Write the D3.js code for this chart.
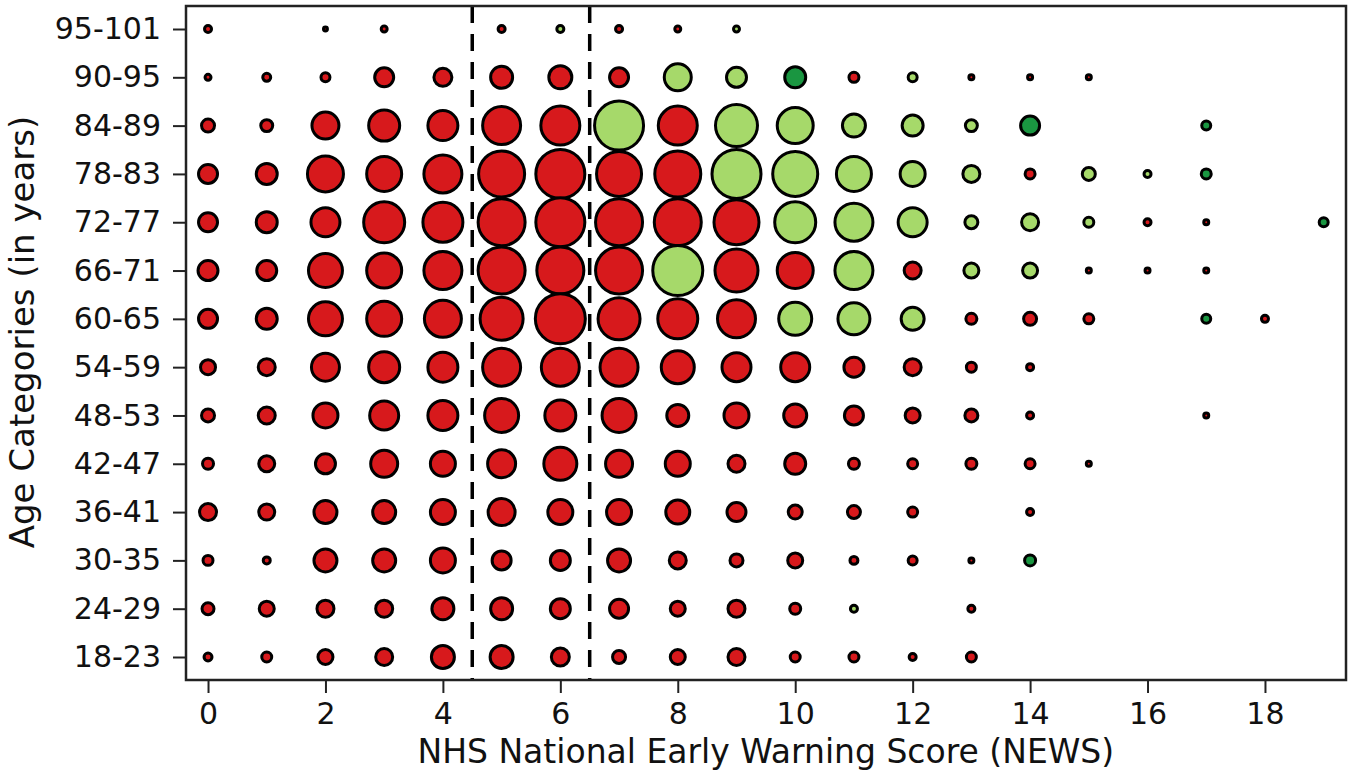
<!DOCTYPE html>
<html>
<head>
<meta charset="utf-8">
<script src="https://cdn.jsdelivr.net/npm/d3@7/dist/d3.min.js"></script>
<style>
  body { margin: 0; background: #fff; }
  text { font-family: "DejaVu Sans", sans-serif; fill: #111; }
</style>
</head>
<body>
<div id="chart"></div>
<script>
// age categories, top row first
var ageCategories = ["95-101", "90-95", "84-89", "78-83", "72-77", "66-71", "60-65",
  "54-59", "48-53", "42-47", "36-41", "30-35", "24-29", "18-23"];

// NEWS score 0..19
var newsScores = d3.range(0, 20);
var xTicks = [0, 2, 4, 6, 8, 10, 12, 14, 16, 18];

// bubble sizes per age row (one value per NEWS score, 0 = no patients)
var sizes = [
  [25, 0, 12, 20, 0, 25, 25, 25, 20, 20, 0, 0, 0, 0, 0, 0, 0, 0, 0, 0],
  [20, 30, 36, 121, 110, 156, 169, 121, 225, 132, 144, 42, 36, 16, 16, 16, 0, 0, 0, 0],
  [64, 56, 225, 289, 272, 420, 441, 676, 441, 506, 380, 169, 144, 56, 121, 0, 0, 36, 0, 0],
  [121, 144, 380, 361, 420, 600, 676, 576, 600, 676, 576, 361, 196, 100, 42, 64, 25, 42, 0, 0],
  [121, 144, 256, 484, 462, 625, 676, 625, 625, 576, 484, 420, 256, 64, 100, 42, 25, 16, 0, 36],
  [132, 132, 342, 361, 420, 625, 625, 625, 702, 529, 380, 420, 100, 81, 81, 16, 16, 16, 0, 0],
  [121, 144, 342, 361, 400, 529, 702, 506, 462, 420, 324, 306, 169, 49, 64, 42, 0, 36, 25, 0],
  [81, 100, 240, 289, 272, 420, 420, 420, 324, 256, 256, 132, 100, 42, 25, 0, 0, 0, 0, 0],
  [64, 100, 196, 256, 272, 342, 289, 342, 156, 196, 169, 121, 81, 64, 25, 0, 0, 16, 0, 0],
  [49, 90, 132, 225, 196, 240, 324, 225, 196, 100, 144, 49, 42, 49, 42, 16, 0, 0, 0, 0],
  [100, 90, 169, 169, 196, 225, 196, 196, 182, 121, 72, 64, 42, 0, 25, 0, 0, 0, 0, 0],
  [42, 25, 169, 169, 196, 121, 132, 169, 100, 64, 81, 30, 36, 16, 49, 0, 0, 0, 0, 0],
  [56, 81, 100, 100, 156, 156, 132, 121, 81, 100, 49, 25, 0, 25, 0, 0, 0, 0, 0, 0],
  [30, 42, 81, 100, 169, 169, 110, 64, 81, 100, 42, 42, 25, 42, 0, 0, 0, 0, 0, 0]
];

// outcome group per cell: r = red, l = light green, d = dark green, . = empty
var groups = [
  "r.rr.rlrrl..........",
  "rrrrrrrrlldrlrrr....",
  "rrrrrrrlrllllld..d..",
  "rrrrrrrrrlllllrlld..",
  "rrrrrrrrrrllllllrr.d",
  "rrrrrrrrlrrlrllrrr..",
  "rrrrrrrrrrlllrrr.dr.",
  "rrrrrrrrrrrrrrr.....",
  "rrrrrrrrrrrrrrr..r..",
  "rrrrrrrrrrrrrrrr....",
  "rrrrrrrrrrrrr.r.....",
  "rrrrrrrrrrrrrrd.....",
  "rrrrrrrrrrrl.r......",
  "rrrrrrrrrrrrrr......"
];

var groupColors = { r: "#d7191c", l: "#a6d96a", d: "#1a9641" };

// cut-offs drawn as dashed lines
var cutoffs = [4.5, 6.5];

var svgWidth = 1351;
var svgHeight = 778;
var margin = { top: 6, right: 5, bottom: 98, left: 186 };
var width = svgWidth - margin.left - margin.right;
var height = svgHeight - margin.top - margin.bottom;

var svg = d3.select("#chart")
  .append("svg")
  .attr("width", svgWidth)
  .attr("height", svgHeight);

var chartGroup = svg.append("g")
  .attr("transform", `translate(${margin.left}, ${margin.top})`);

var xScale = d3.scaleLinear()
  .domain([-0.375, 19.38])
  .range([0, width]);

var yScale = d3.scalePoint()
  .domain(ageCategories)
  .range([23, 651]);

var rScale = d3.scaleSqrt()
  .domain([0, 702])
  .range([0, 26.5]);

// flatten the grid
var cells = [];
ageCategories.forEach(function(age, i) {
  newsScores.forEach(function(score, j) {
    if (sizes[i][j] > 0) {
      cells.push({ age: age, score: score, n: sizes[i][j], g: groups[i][j] });
    }
  });
});

// dashed cut-off lines
chartGroup.selectAll(".cutoff")
  .data(cutoffs)
  .enter()
  .append("line")
  .attr("x1", d => xScale(d))
  .attr("x2", d => xScale(d))
  .attr("y1", 0)
  .attr("y2", height)
  .attr("stroke", "#000")
  .attr("stroke-width", 3.5)
  .attr("stroke-dasharray", "17,11");

// bubbles
chartGroup.selectAll(".bubble")
  .data(cells)
  .enter()
  .append("circle")
  .attr("cx", d => xScale(d.score))
  .attr("cy", d => yScale(d.age))
  .attr("r", d => Math.max(rScale(d.n) - 1.5, 1.5))
  .attr("fill", d => groupColors[d.g])
  .attr("stroke", "#000")
  .attr("stroke-width", 3);

// frame
chartGroup.append("rect")
  .attr("x", 0)
  .attr("y", 0)
  .attr("width", width)
  .attr("height", height)
  .attr("fill", "none")
  .attr("stroke", "#222")
  .attr("stroke-width", 2.5);

// axes
var xAxis = d3.axisBottom(xScale).tickValues(xTicks).tickSize(13).tickPadding(10);
var yAxis = d3.axisLeft(yScale).tickSize(13).tickPadding(12);

var xAxisG = chartGroup.append("g")
  .attr("transform", `translate(0, ${height})`)
  .call(xAxis);

var yAxisG = chartGroup.append("g")
  .call(yAxis);

[xAxisG, yAxisG].forEach(function(g) {
  g.select(".domain").remove();
  g.selectAll(".tick line").attr("stroke", "#222").attr("stroke-width", 2);
  g.selectAll(".tick text")
    .style("font-size", "30px")
    .style("font-family", "'DejaVu Sans', sans-serif")
    .attr("fill", "#111");
});

// axis titles
chartGroup.append("text")
  .attr("x", xScale(9.5))
  .attr("y", height + 83)
  .attr("text-anchor", "middle")
  .style("font-size", "33px")
  .text("NHS National Early Warning Score (NEWS)");

chartGroup.append("text")
  .attr("transform", "rotate(-90)")
  .attr("x", -(332 - margin.top))
  .attr("y", -152)
  .attr("text-anchor", "middle")
  .style("font-size", "34px")
  .text("Age Categories (in years)");
</script>
</body>
</html>
